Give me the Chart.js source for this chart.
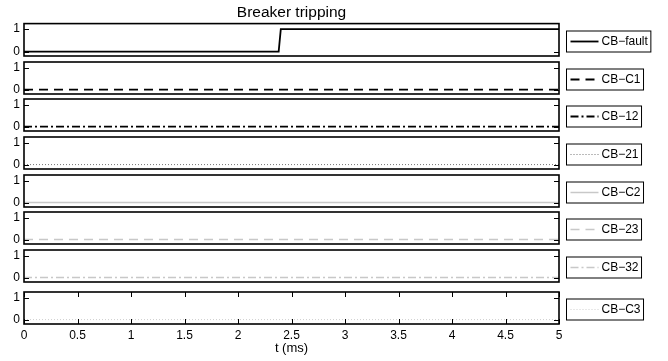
<!DOCTYPE html>
<html>
<head>
<meta charset="utf-8">
<script src="https://cdn.jsdelivr.net/npm/chart.js@4.4.0/dist/chart.umd.min.js"></script>
<style>
    body { margin: 0; background: #fff; }
    #wrap { position: relative; width: 668px; height: 361px; overflow: hidden; background: #fff; }
    #wrap canvas { position: absolute; left: 0; }
</style>
</head>
<body>
<div id="wrap"></div>
<script>
const seriesLabels = ['CB−fault', 'CB−C1', 'CB−12', 'CB−21', 'CB−C2', 'CB−23', 'CB−32', 'CB−C3'];
const timeFault = [0, 2.38, 2.4, 5];
const valuesFault = [0, 0, 1, 1];
const timeFlat = [0, 5];
const valuesC1 = [0, 0];
const values12 = [0, 0];
const values21 = [0, 0];
const valuesC2 = [0, 0];
const values23 = [0, 0];
const values32 = [0, 0];
const valuesC3 = [0, 0];
const xTicks = [0, 0.5, 1, 1.5, 2, 2.5, 3, 3.5, 4, 4.5, 5];
const yTicks = [0, 1];

const FONT = '"Liberation Sans", Arial, Helvetica, sans-serif';
Chart.defaults.font.family = FONT;
Chart.defaults.color = '#000';

// line look of each subplot (matlab-ish)
const lineStyles = [
    { color: '#000', width: 1.8, dash: [] },
    { color: '#000', width: 1.8, dash: [9, 6] },
    { color: '#000', width: 1.8, dash: [8, 3, 2, 3] },
    { color: '#777', width: 1, dash: [1, 2] },
    { color: '#c8c8c8', width: 1.5, dash: [] },
    { color: '#c8c8c8', width: 1.5, dash: [9, 6] },
    { color: '#c8c8c8', width: 1.5, dash: [8, 3, 2, 3] },
    { color: '#d0d0d0', width: 1, dash: [1, 2] },
];

const series = [
    [timeFault, valuesFault],
    [timeFlat, valuesC1],
    [timeFlat, values12],
    [timeFlat, values21],
    [timeFlat, valuesC2],
    [timeFlat, values23],
    [timeFlat, values32],
    [timeFlat, valuesC3],
];

const boxTops = [24, 62, 99, 137, 175, 212, 250, 292];
const boxH = 32;
const TICK = 5;

const framePlugin = {
    id: 'frame',
    afterDraw(chart) {
        const ctx = chart.ctx, a = chart.chartArea;
        const x = chart.scales.x, y = chart.scales.y;
        ctx.save();
        ctx.strokeStyle = '#000';
        ctx.lineWidth = 1.6;
        ctx.strokeRect(a.left, a.top, a.right - a.left, a.bottom - a.top);
        ctx.lineWidth = 1;
        ctx.beginPath();
        yTicks.forEach(function (v) {
            const py = Math.round(y.getPixelForValue(v)) + 0.5;
            ctx.moveTo(a.left, py); ctx.lineTo(a.left + TICK, py);
            ctx.moveTo(a.right, py); ctx.lineTo(a.right - TICK, py);
        });
        if (chart.options.scales.x.display) {
            xTicks.forEach(function (v) {
                const px = Math.round(x.getPixelForValue(v)) + 0.5;
                ctx.moveTo(px, a.top); ctx.lineTo(px, a.top + TICK);
                ctx.moveTo(px, a.bottom); ctx.lineTo(px, a.bottom - TICK);
            });
        }
        ctx.stroke();
        ctx.restore();
    }
};

const legendPlugin = {
    id: 'boxLegend',
    afterDraw(chart) {
        const ctx = chart.ctx, a = chart.chartArea;
        const ds = chart.data.datasets[0];
        ctx.save();
        ctx.font = '12px ' + FONT;
        const textW = ctx.measureText(ds.label).width;
        const left = 566.5, h = 21, lineLen = 28;
        const mid = Math.round((a.top + a.bottom) / 2) + 1.5;
        const top = mid - h / 2;
        const w = 4 + lineLen + 3 + textW + 3;
        ctx.fillStyle = '#fff';
        ctx.fillRect(left, top, w, h);
        ctx.strokeStyle = '#000';
        ctx.lineWidth = 1;
        ctx.strokeRect(left, top, w, h);
        ctx.beginPath();
        ctx.setLineDash(ds.borderDash);
        ctx.strokeStyle = ds.borderColor;
        ctx.lineWidth = ds.borderWidth;
        ctx.moveTo(left + 4, mid);
        ctx.lineTo(left + 4 + lineLen, mid);
        ctx.stroke();
        ctx.setLineDash([]);
        ctx.fillStyle = '#000';
        ctx.textBaseline = 'middle';
        ctx.fillText(ds.label, left + 4 + lineLen + 3, mid + 0.5);
        ctx.restore();
    }
};

function createSubplot(index) {
    const first = index === 0;
    const last = index === series.length - 1;
    const padTop = first ? 0 : 6;
    const canvasTop = first ? 0 : boxTops[index] - 6;
    const xAxisH = 37;
    const height = first ? boxTops[0] + boxH + 6 : (last ? 361 - canvasTop : boxH + 12);

    const canvas = document.createElement('canvas');
    canvas.width = 668;
    canvas.height = height;
    canvas.style.top = canvasTop + 'px';
    document.getElementById('wrap').appendChild(canvas);

    const style = lineStyles[index];
    const [times, values] = series[index];

    const xScale = {
        type: 'linear',
        min: 0,
        max: 5,
        display: last,
        afterBuildTicks: axis => { axis.ticks = xTicks.map(v => ({ value: v })); },
        grid: { display: false, drawTicks: false },
        border: { display: false },
        ticks: { font: { size: 12 }, color: '#000', padding: 4, maxRotation: 0, autoSkip: false, callback: v => String(v) },
        title: { display: true, text: 't (ms)', color: '#000', font: { size: 13 }, padding: { top: 0, bottom: 5 } },
    };
    if (last) xScale.afterFit = axis => { axis.height = xAxisH; };

    return new Chart(canvas, {
        type: 'line',
        data: {
            datasets: [{
                label: seriesLabels[index],
                data: times.map((t, i) => ({ x: t, y: values[i] })),
                borderColor: style.color,
                borderWidth: style.width,
                borderDash: style.dash,
                pointRadius: 0,
                fill: false,
                tension: 0,
            }]
        },
        options: {
            responsive: false,
            animation: false,
            devicePixelRatio: 1,
            layout: {
                padding: { top: padTop, bottom: last ? 0 : 6, left: 0, right: 668 - 559 }
            },
            plugins: {
                legend: { display: false },
                tooltip: { enabled: false },
                title: {
                    display: first,
                    text: 'Breaker tripping',
                    fullSize: false,
                    color: '#000',
                    font: { size: 15.5, weight: 'normal', lineHeight: 1.2 },
                    padding: { top: 3, bottom: 2 },
                },
            },
            scales: {
                x: xScale,
                y: {
                    type: 'linear',
                    min: -0.2,
                    max: 1.25,
                    afterBuildTicks: axis => { axis.ticks = yTicks.map(v => ({ value: v })); },
                    afterFit: axis => {
                        axis.width = 24;
                        axis.paddingTop = 0;
                        axis.paddingBottom = 0;
                    },
                    grid: { display: false, drawTicks: false },
                    border: { display: false },
                    ticks: { font: { size: 12 }, color: '#000', padding: 4 },
                },
            },
        },
        plugins: [framePlugin, legendPlugin],
    });
}

for (let i = 0; i < series.length; i++) createSubplot(i);
</script>
</body>
</html>
